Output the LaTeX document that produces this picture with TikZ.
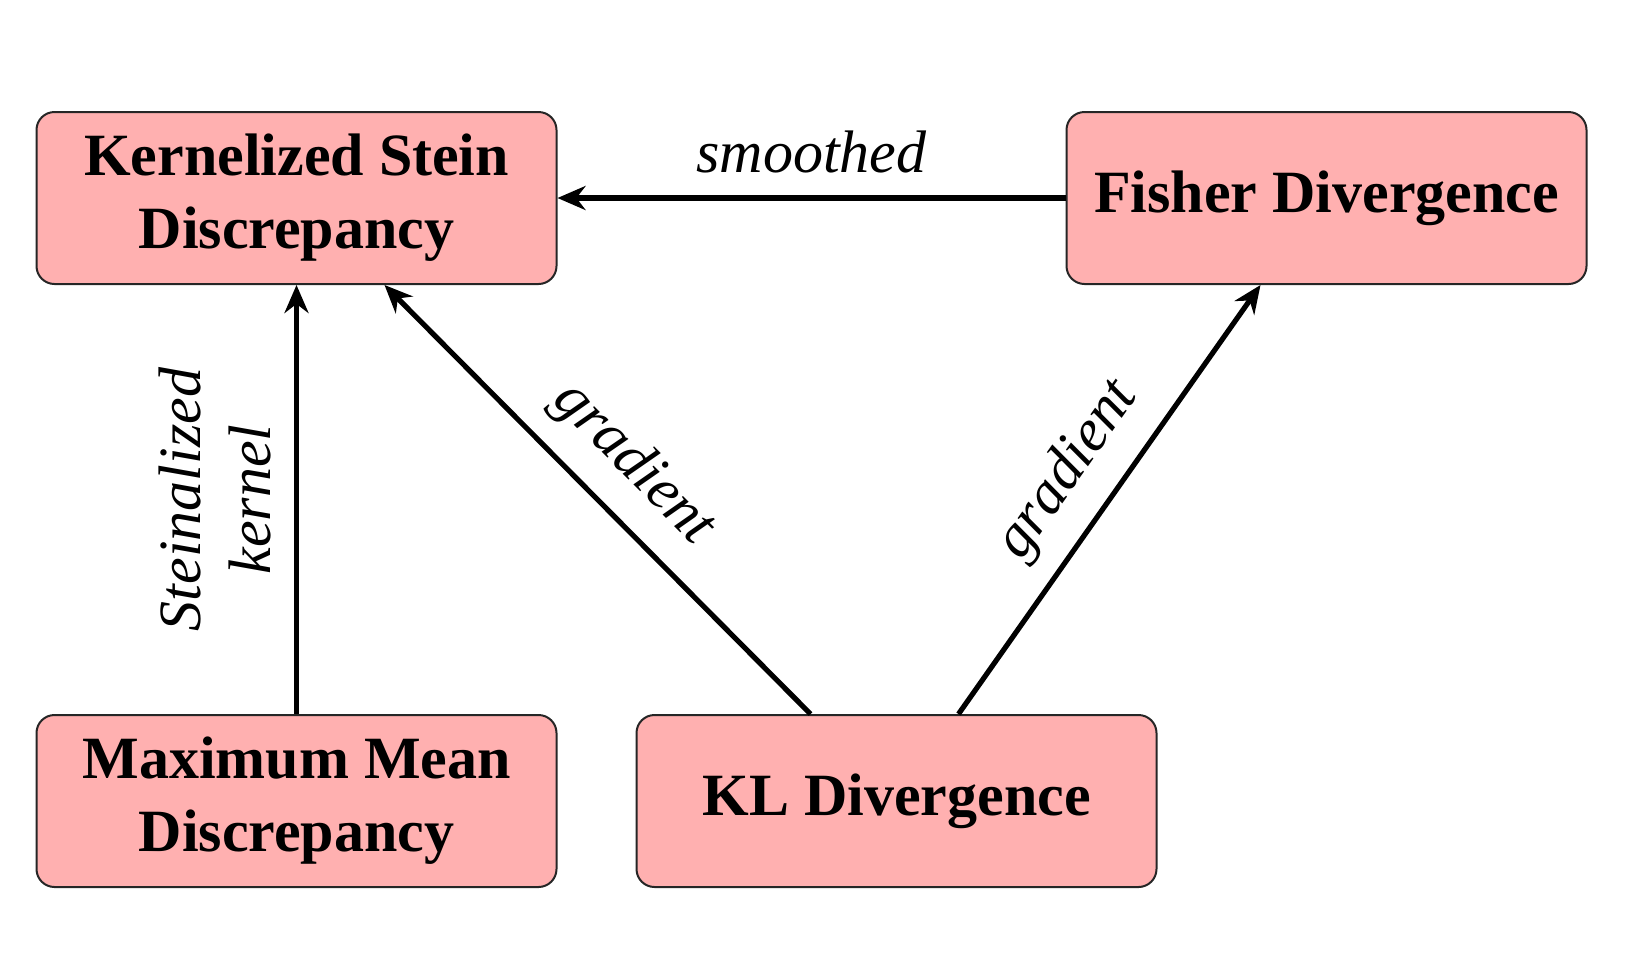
\documentclass[tikz,border=0pt]{standalone}
\usepackage{fontspec}
\newfontfamily\boxfont{Liberation Serif}
\usepackage{tikz}
\usetikzlibrary{arrows.meta, positioning, calc}
\definecolor{boxPink}{RGB}{255,176,176}
\definecolor{boxEdge}{gray}{0.15}

\begin{document}
\begin{tikzpicture}[x=0.5pt, y=-0.5pt,
    divbox/.style={draw=boxEdge, line width=1pt, fill=boxPink, rounded corners=9pt,
        minimum width=260pt, minimum height=86pt, align=center,
        font=\boxfont\bfseries\fontsize{30}{36.5}\selectfont},
    rel/.style={line width=2.6pt, >={Stealth[length=14pt, width=12pt]}},
    lbl/.style={font=\boxfont\itshape\fontsize{30}{35}\selectfont, align=center}]
    \useasboundingbox (0,0) rectangle (1632,955);

    % Divergences
    \node[divbox] (ksd) at (296.5,198) {Kernelized Stein\\Discrepancy};
    \node[divbox] (fisher) at (1326.5,198) {Fisher Divergence};
    \node[divbox] (mmd) at (296.5,801) {Maximum Mean\\Discrepancy};
    \node[divbox] (kl) at (896.5,801) {KL Divergence};

    % Relations
    \draw[rel, ->] (fisher) -- node[lbl, above=8pt] {smoothed} (ksd);
    \draw[rel, ->] (mmd) -- node[lbl, sloped, above=8pt] {Steinalized\\kernel} (ksd);
    \draw[rel, <-] ([xshift=44pt]ksd.south) -- node[lbl, sloped, above=7pt] {gradient} ([xshift=-43pt]kl.north);
    \draw[rel, ->] ([xshift=31pt]kl.north) -- node[lbl, sloped, above=7pt] {gradient} ([xshift=-33pt]fisher.south);
\end{tikzpicture}
\end{document}
